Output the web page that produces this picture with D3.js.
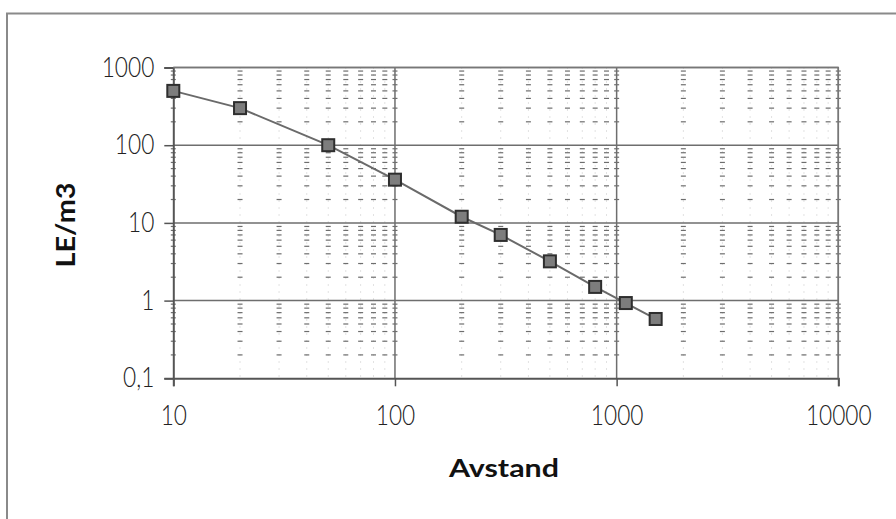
<!DOCTYPE html>
<html lang="no">
<head>
<meta charset="utf-8">
<title>LE/m3 mot avstand</title>
<style>
  body { margin: 0; background: #fff; }
  svg { display: block; }
  .tick text { font-family: Lato, "DejaVu Sans", sans-serif; font-weight: 300; fill: #222; }
  .title { font-family: Lato, "DejaVu Sans", sans-serif; font-weight: 700; fill: #111; }
</style>
<script src="https://d3js.org/d3.v7.min.js"></script>
</head>
<body>
<script>
  // data
  let avstand = [10, 20, 50, 100, 200, 300, 500, 800, 1100, 1500]
  let leM3 = [500, 300, 100, 36, 12, 7, 3.2, 1.5, 0.93, 0.58]
  let xTicks = [10, 100, 1000, 10000]
  let xTickLabels = ["10", "100", "1000", "10000"]
  let yTicks = [0.1, 1, 10, 100, 1000]
  let yTickLabels = ["0,1", "1", "10", "100", "1000"]

  let width = 896
  let height = 519
  let plotL = 173.3, plotR = 838.3, plotT = 67.5, plotB = 378.3

  let svg = d3.select("body").append("svg")
      .attr("width", width)
      .attr("height", height)

  // outer chart frame (runs off the right and bottom edge)
  svg.append("rect")
      .attr("x", 7).attr("y", 13.5)
      .attr("width", 900).attr("height", 520)
      .attr("fill", "none")
      .attr("stroke", "#8a8a8a")
      .attr("stroke-width", 2)

  let x = d3.scaleLog().domain([10, 10000]).range([plotL, plotR])
  let y = d3.scaleLog().domain([0.1, 1000]).range([plotB, plotT])

  // minor grid: the dotted lines only show up where they cross
  let minorX = [], minorY = []
  for (let d = 10; d < 10000; d *= 10) for (let m = 2; m <= 9; m++) minorX.push(d * m)
  for (let d = 0.1; d < 1000; d *= 10) for (let m = 2; m <= 9; m++) minorY.push(d * m)
  let allX = minorX.concat(xTicks)
  let crossings = []
  allX.forEach(a => minorY.forEach(b => crossings.push([a, b])))

  let grid = svg.append("g")
  grid.selectAll(".mx").data(minorX).enter().append("line")
      .attr("x1", d => x(d)).attr("x2", d => x(d))
      .attr("y1", plotT).attr("y2", plotB)
      .attr("stroke", "#c4c4c4").attr("stroke-width", 1)
      .attr("stroke-dasharray", "1,6")
  grid.selectAll(".cr").data(crossings).enter().append("line")
      .attr("x1", d => x(d[0]) - 2.5).attr("x2", d => x(d[0]) + 2.5)
      .attr("y1", d => y(d[1])).attr("y2", d => y(d[1]))
      .attr("stroke", "#6e6e6e").attr("stroke-width", 1.2)

  // major grid
  grid.selectAll(".Mx").data(xTicks.slice(1)).enter().append("line")
      .attr("x1", d => x(d)).attr("x2", d => x(d))
      .attr("y1", plotT).attr("y2", plotB)
      .attr("stroke", "#6e6e6e").attr("stroke-width", 1.5)
  grid.selectAll(".My").data(yTicks.slice(1)).enter().append("line")
      .attr("x1", plotL).attr("x2", plotR)
      .attr("y1", d => y(d)).attr("y2", d => y(d))
      .attr("stroke", "#6e6e6e").attr("stroke-width", 1.5)

  // axes
  let xAxis = d3.axisBottom(x)
      .tickValues(xTicks)
      .tickFormat((d, i) => xTickLabels[i])
      .tickSize(8)
      .tickPadding(18)
  let yAxis = d3.axisLeft(y)
      .tickValues(yTicks)
      .tickFormat((d, i) => yTickLabels[i])
      .tickSize(9)
      .tickPadding(10)

  let gx = svg.append("g").attr("transform", `translate(0,${plotB})`).call(xAxis)
  let gy = svg.append("g").attr("transform", `translate(${plotL},0)`).call(yAxis)

  gx.select(".domain").attr("stroke", "#555").attr("stroke-width", 2)
  gy.select(".domain").attr("stroke", "#555").attr("stroke-width", 2)
  svg.selectAll(".tick line").attr("stroke", "#555").attr("stroke-width", 1.5)

  // narrow the tick label glyphs
  gx.selectAll(".tick text")
      .attr("font-size", 27)
      .attr("transform", function () {
          let yy = +d3.select(this).attr("y")
          return `translate(0,${yy}) scale(0.84,1)`
      })
      .attr("y", 0)
      .attr("dy", "0.78em")
  gy.selectAll(".tick text")
      .attr("font-size", 27)
      .attr("transform", function () {
          let xx = +d3.select(this).attr("x")
          return `translate(${xx},0) scale(0.84,1)`
      })
      .attr("x", 0)

  // plot frame top/right
  svg.append("path")
      .attr("d", `M${plotL},${plotT}H${plotR}V${plotB}`)
      .attr("fill", "none")
      .attr("stroke", "#777")
      .attr("stroke-width", 1.5)

  // series
  let line = d3.line()
      .x((d, i) => x(avstand[i]))
      .y(d => y(d))
  svg.append("path")
      .datum(leM3)
      .attr("d", line)
      .attr("fill", "none")
      .attr("stroke", "#6a6a6a")
      .attr("stroke-width", 2)

  let ms = 12
  svg.selectAll(".pt").data(leM3).enter().append("rect")
      .attr("x", (d, i) => x(avstand[i]) - ms / 2)
      .attr("y", d => y(d) - ms / 2)
      .attr("width", ms).attr("height", ms)
      .attr("fill", "#7d7d7d")
      .attr("stroke", "#2e2e2e")
      .attr("stroke-width", 2)

  // axis titles
  svg.append("text")
      .attr("class", "title")
      .attr("x", 504).attr("y", 477)
      .attr("text-anchor", "middle")
      .attr("font-size", 24)
      .attr("textLength", 110)
      .attr("lengthAdjust", "spacingAndGlyphs")
      .text("Avstand")

  svg.append("text")
      .attr("class", "title")
      .attr("transform", "translate(75,225) rotate(-90)")
      .attr("text-anchor", "middle")
      .attr("font-size", 27)
      .attr("textLength", 85)
      .attr("lengthAdjust", "spacingAndGlyphs")
      .text("LE/m3")
</script>
</body>
</html>
